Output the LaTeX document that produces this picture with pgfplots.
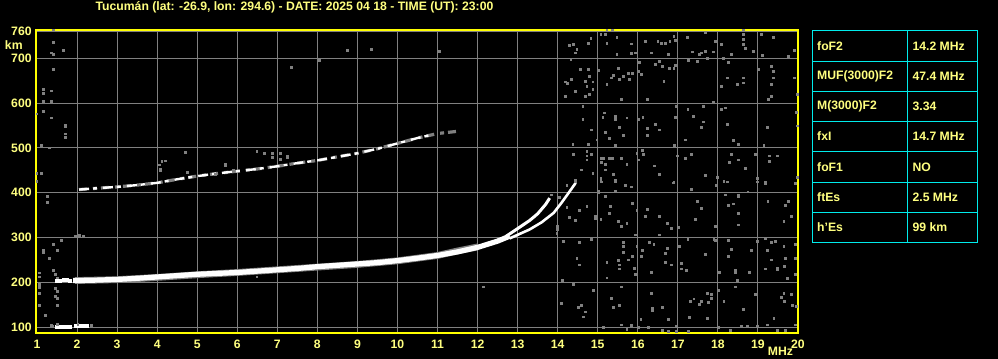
\documentclass[border=0pt]{standalone}
\usepackage{pgfplots}
\pgfplotsset{compat=1.18}
\usepackage{fontspec}
\setmainfont{Liberation Sans}
\definecolor{ylab}{RGB}{255,255,128}
\definecolor{yaxis}{RGB}{255,255,0}
\definecolor{gridg}{RGB}{128,128,128}
\definecolor{noise}{RGB}{128,128,128}
\definecolor{tabc}{RGB}{0,235,235}
\newcommand{\lf}{\bfseries\fontsize{6.1}{7}\selectfont}
\begin{document}
\begin{tikzpicture}
\fill[black] (0,0) rectangle (499pt,179.5pt);
\useasboundingbox (0,0) rectangle (499pt,179.5pt);
\begin{axis}[
  at={(18pt,13pt)}, anchor=south west,
  width=381pt, height=151.5pt, scale only axis,
  xmin=0.975, xmax=20, ymin=87, ymax=763,
  xtick={1,...,20}, ytick={100,200,300,400,500,600,700,760},
  major tick length=0pt,
  grid=major,
  major grid style={gridg, line width=0.5pt},
  axis line style={yaxis, line width=0.6pt},
  ticklabel style={font=\lf, text=ylab, inner sep=0pt},
  xticklabel style={anchor=north, yshift=-3.5pt},
  yticklabel style={anchor=east, xshift=-2pt},
  /pgf/number format/assume math mode=true,
  /pgf/number format/1000 sep={},
  clip=true,
]
% noise
\addplot[only marks, mark=square*, mark size=0.45pt, color=noise, mark options={draw=none}] coordinates {
(15.23,762)(15.37,762)(15.08,753)(15.19,753)(15.48,746)(15.23,734)(14.77,734)(14.83,744)(14.29,729)(14.40,731)(14.48,720)(14.44,712)(15.84,732)(15.94,712)(15.84,710)(15.48,708)(16.19,737)(16.50,737)(16.59,734)(16.69,734)(16.80,738)(16.90,748)(16.94,740)(16.34,712)(16.77,708)(17.23,746)(17.37,714)(17.54,708)(17.58,712)(17.69,716)(17.69,757)(17.94,738)(17.88,714)(18.09,731)(18.33,708)(18.63,762)(18.63,753)(18.63,742)(18.63,731)(18.69,722)(18.88,716)(19.08,753)(19.38,746)(19.12,707)(19.77,705)(19.92,717)
(14.33,698)(14.57,675)(14.77,675)(14.79,660)(14.34,652)(14.19,647)(14.25,643)(14.69,649)(14.88,647)(14.73,637)(14.88,630)(14.44,626)(14.19,615)(14.69,615)(14.79,619)(15.02,673)(15.23,641)(15.40,661)(15.34,656)(15.52,678)(15.54,652)(15.65,660)(15.77,667)(15.79,652)(15.87,667)(15.59,608)(16.04,690)(16.09,664)(16.02,671)(16.44,687)(16.54,693)(16.61,682)(16.79,677)(16.90,678)(16.94,684)(16.65,649)(16.23,608)(17.27,695)(17.48,693)(17.73,699)(18.13,699)(18.27,690)(18.23,656)(18.09,637)(18.48,641)(18.63,656)(18.63,645)(19.02,675)(19.33,682)(19.38,670)(19.38,656)(19.33,641)(19.34,615)(19.27,608)(19.92,656)(19.98,619)(17.88,602)
(14.63,593)(15.17,578)(15.13,568)(15.44,570)(15.44,563)(15.73,567)(15.54,546)(15.65,527)(15.29,522)(15.19,535)(14.84,540)(14.63,563)(14.38,508)(14.77,508)(14.98,518)(15.44,505)(16.13,568)(16.02,563)(16.23,544)(16.44,553)(16.54,540)(16.23,527)(16.94,568)(16.96,593)(17.25,585)(17.63,593)(17.63,558)(17.58,546)(17.38,570)(17.19,518)(16.92,505)(18.09,585)(18.19,589)(18.23,553)(18.38,516)(18.52,508)(19.23,546)(19.96,580)(19.98,549)(19.15,505)
(14.40,486)(14.73,493)(14.73,482)(14.84,486)(14.73,473)(14.59,451)(14.88,443)(15.09,477)(15.15,477)(15.29,477)(15.36,477)(15.59,477)(15.09,468)(15.19,464)(15.73,464)(15.19,451)(15.40,441)(15.08,432)(15.08,426)(16.12,494)(16.15,486)(16.02,473)(16.42,460)(16.54,441)(15.98,488)(16.98,482)(17.19,477)(17.34,485)(17.69,438)(17.98,434)(18.33,486)(18.29,468)(18.52,473)(18.69,455)(18.94,486)(19.29,482)(19.29,470)(19.48,482)(18.98,432)(14.44,428)(15.44,428)(16.90,423)(18.15,426)(19.19,423)(19.98,434)
(14.23,417)(14.44,424)(15.09,424)(15.44,424)(15.69,417)(15.84,413)(15.02,400)(15.02,404)(15.19,391)(15.44,404)(15.87,376)(15.32,369)(15.29,353)(14.73,369)(14.94,343)(14.94,347)(14.44,338)(14.23,367)(15.08,341)(15.52,336)(15.73,332)(15.59,324)(15.98,360)(16.23,363)(16.19,347)(16.54,347)(16.73,332)(16.84,321)(17.02,322)(16.54,306)(15.94,306)(16.88,422)(17.34,407)(17.48,380)(17.58,365)(17.44,341)(17.94,324)(17.90,296)(18.19,395)(18.27,372)(18.38,375)(18.52,391)(18.52,395)(18.52,354)(18.52,328)(18.75,402)(17.97,417)(18.23,424)(18.98,424)(19.19,421)(19.25,380)(19.69,372)(19.77,380)(19.94,421)(19.65,336)(19.84,347)
(14.14,291)(14.54,289)(14.84,296)(13.98,310)(14.48,253)(14.54,239)(15.23,244)(15.23,210)(15.52,249)(15.54,239)(15.54,230)(15.65,289)(15.65,280)(15.65,267)(15.76,250)(15.92,232)(15.87,258)(15.94,217)(15.98,280)(16.12,271)(16.09,258)(16.29,289)(16.34,222)(16.40,284)(16.69,265)(16.73,275)(16.69,244)(16.84,239)(17.04,281)(17.09,243)(17.09,230)(17.22,227)(17.25,296)(17.69,262)(17.94,293)(18.04,222)(18.27,293)(18.34,274)(18.27,258)(18.44,222)(18.44,226)(18.48,204)(18.79,222)(18.84,271)(18.98,291)(19.19,298)(19.23,271)(19.34,289)(19.44,291)(19.34,250)(19.48,228)(19.48,232)(19.65,280)(19.69,253)(19.67,236)(19.94,284)(19.94,253)(19.94,217)(19.19,230)(19.73,208)
(14.12,205)(14.40,195)(14.90,182)(15.59,190)(14.09,153)(14.51,145)(14.59,148)(14.69,134)(14.65,123)(15.34,165)(15.40,145)(15.54,148)(16.34,176)(16.37,138)(16.37,142)(16.62,145)(16.77,117)(16.08,117)(16.01,99)(15.84,104)(15.59,105)(15.15,100)(15.73,95)(16.26,99)(16.62,93)(16.77,91)(16.96,102)(16.96,91)(17.32,158)(17.40,163)(17.54,150)(17.58,158)(17.73,176)(17.83,173)(17.83,165)(17.77,156)(17.29,122)(17.73,119)(18.02,182)(18.15,158)(18.44,190)(18.63,139)(18.94,173)(18.32,93)(18.58,102)(18.73,102)(18.98,102)(19.23,105)(19.40,119)(19.65,176)(19.59,167)(19.67,158)(19.84,173)(19.87,148)(19.96,147)(19.48,93)(19.69,93)(19.94,105)(17.27,91)(18.02,99)
(1.40,762)(1.40,735)(1.65,717)(1.35,712)(1.40,708)(1.40,675)(1.15,630)(1.15,621)(1.35,627)(1.15,603)(1.35,603)(1.00,576)(1.15,582)(1.35,567)(1.71,550)(1.71,524)(1.10,505)(1.30,500)(1.00,443)(1.10,443)(1.00,426)(1.25,391)(1.25,379)(1.96,302)(2.06,305)(2.15,302)(1.60,293)(1.40,284)(1.50,271)(1.15,271)(1.15,266)(1.30,253)(1.40,226)(1.45,217)(1.50,210)(1.05,221)(1.05,212)(1.05,195)(1.05,188)(1.05,176)(1.45,186)(1.50,180)(1.45,169)(1.50,164)(1.50,149)(1.05,149)(1.20,127)(1.35,104)(1.50,107)(1.37,567)(1.70,547)(1.70,531)
(7.35,680)(8.05,695)(8.05,698)(8.75,718)(9.35,720)(11.05,715)
(6.49,212)(12.14,190)(6.49,493)(6.67,487)(6.87,487)(7.07,487)(7.25,482)(7.25,479)(6.87,478)(7.07,474)(4.20,471)(4.70,490)(4.12,470)(4.05,462)(4.08,449)(4.08,453)(5.70,460)(5.70,464)(5.90,449)(4.75,446)(5.45,441)
(14.05,390)(13.85,395)(14.55,360)(14.3,345)(14.0,318)(14.0,325)
};
% grey fringe of the traces
\addplot[gridg, line width=3.4pt] coordinates {
(1.95,204)(3,206)(4,211)(5,217)(6,222)(7,228)(8,234)(9,240)(10,248)(11,260)(11.5,270)(12,279)
};
% main F trace
\addplot[white, line width=2.6pt, line cap=butt] coordinates {
(1.9,204)(2.5,205)(3,206.5)(3.5,209)(4,212)(4.5,215)(5,218)(5.5,220)(6,222)(6.5,225)(7,228)(7.5,231)(8,235)(8.5,238)(9,241)(9.5,244)(10,248.5)(10.5,254)(11,260)(11.5,268)(12,278)(12.5,292)(12.8,303)
};
\addplot[white, only marks, mark=square*, mark size=0.7pt] coordinates {
(1.5,204)(1.58,204)(1.66,205)(1.74,205)(1.82,204)
};
% O branch
\addplot[white, line width=1.5pt] coordinates {
(12.7,302)(13.0,320)(13.3,338)(13.5,353)(13.7,374)(13.8,388)
};
% X branch
\addplot[white, line width=1.3pt] coordinates {
(12.8,298)(13.0,306)(13.3,318)(13.6,334)(13.9,355)(14.1,378)(14.3,403)(14.45,422)
};
% second hop
\addplot[gridg, line width=1.6pt, dash pattern=on 4pt off 3pt on 2pt off 2pt] coordinates {
(2.05,407)(2.5,410)(3,413)(3.5,417)(4,422)(4.5,430)(5,437)(5.5,443)(6,448)(6.5,453)(7,459)(7.5,466)(8,472)(8.5,480)(9,488)(9.5,498)(10,510)(10.5,522)(11,532)(11.6,538)
};
\addplot[white, line width=1.2pt, dash pattern=on 5pt off 2pt on 2pt off 3pt] coordinates {
(2.05,407)(2.5,410)(3,413)(3.5,417)(4,422)(4.5,430)(5,437)(5.5,443)(6,448)(6.5,453)(7,459)(7.5,466)(8,472)(8.5,480)(9,488)(9.5,498)(10,510)(10.5,522)(10.9,530)
};
% Es trace
\addplot[white, line width=2.0pt] coordinates {(1.46,101)(1.88,101)};
\addplot[white, line width=2.0pt] coordinates {(1.93,102)(2.31,102)};
\addplot[only marks, mark=square*, mark size=0.45pt, color=noise, mark options={draw=none}] coordinates {(1.38,103)(2.36,104)(2.02,106)};
\end{axis}
% labels
\node[font=\lf, text=ylab] at (147.25pt,176pt) {Tucumán (lat: -26.9, lon: 294.6) - DATE: 2025 04 18 - TIME (UT): 23:00};
\node[font=\lf, text=ylab] at (6.9pt,157pt) {km};
\node[font=\lf, text=ylab] at (390.2pt,3.6pt) {MHz};
% table
\begin{scope}[tabc, line width=0.5pt]
\draw (406.15pt,58.35pt) rectangle (488.85pt,164.35pt);
\draw (453.65pt,58.35pt) -- (453.65pt,164.35pt);
\foreach \yy in {148.65,133.85,118.85,103.65,88.35,73.35} {\draw (406.15pt,\yy pt) -- (488.85pt,\yy pt);}
\end{scope}
\foreach \yy/\a/\b in {156.5/foF2/14.2 MHz, 141.25/MUF(3000)F2/47.4 MHz, 126.35/M(3000)F2/3.34, 111.25/fxI/14.7 MHz, 96/foF1/NO, 80.85/ftEs/2.5 MHz, 65.85/h'Es/99 km} {
  \node[font=\lf, text=ylab, anchor=west, inner sep=0pt] at (408.4pt,\yy pt) {\a};
  \node[font=\lf, text=ylab, anchor=west, inner sep=0pt] at (456.1pt,\yy pt) {\b};
}
\end{tikzpicture}
\end{document}
